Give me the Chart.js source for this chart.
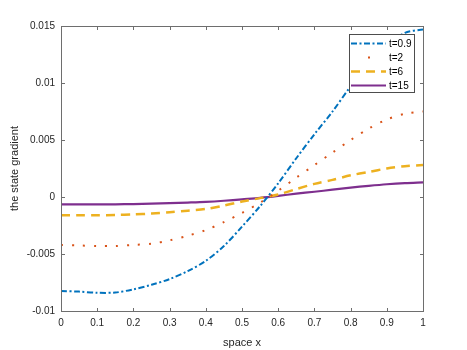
<!DOCTYPE html>
<html>
<head>
<meta charset="utf-8">
<script src="https://cdn.jsdelivr.net/npm/chart.js@4.4.1/dist/chart.umd.min.js"></script>
<style>
  html, body { margin: 0; padding: 0; background: #fff; }
  #box { width: 467px; height: 350px; }
</style>
</head>
<body>
<div id="box"><canvas id="graph"></canvas></div>
<script>
/// data ///
const xs = [0, 0.05, 0.1, 0.15, 0.2, 0.25, 0.3, 0.35, 0.4, 0.45, 0.5, 0.55, 0.6, 0.65, 0.7, 0.75, 0.8, 0.85, 0.9, 0.95, 1];
const t09 = [-0.00825, -0.0083, -0.0084, -0.00838, -0.0081, -0.0077, -0.0072, -0.0065, -0.0056, -0.0043, -0.0026, -0.0008, 0.0012, 0.0034, 0.0055, 0.0075, 0.0097, 0.0117, 0.0133, 0.0144, 0.0147];
const t2 = [-0.0042, -0.00425, -0.0043, -0.0043, -0.0042, -0.0041, -0.0038, -0.0034, -0.0029, -0.0022, -0.0014, -0.0005, 0.00055, 0.0017, 0.0028, 0.0039, 0.005, 0.006, 0.0068, 0.0073, 0.0075];
const t6 = [-0.0016, -0.0016, -0.0016, -0.00158, -0.00153, -0.00145, -0.00133, -0.0012, -0.00105, -0.00075, -0.0004, -0.0001, 0.00022, 0.0007, 0.00115, 0.0015, 0.0019, 0.0022, 0.0025, 0.0027, 0.0028];
const t15 = [-0.00065, -0.00065, -0.00065, -0.00064, -0.00062, -0.00058, -0.00054, -0.00049, -0.00043, -0.00033, -0.0002, -0.00007, 0.0001, 0.00029, 0.00046, 0.00064, 0.00082, 0.00098, 0.00112, 0.00122, 0.00128];
const names = ['t=0.9', 't=2', 't=6', 't=15'];
const xTicks = [0, 0.1, 0.2, 0.3, 0.4, 0.5, 0.6, 0.7, 0.8, 0.9, 1];
const yTicks = [-0.01, -0.005, 0, 0.005, 0.01, 0.015];

function pts(ys) {
  return xs.map((x, i) => ({ x: x, y: ys[i] }));
}

const axisColor = '#6e6e6e';
const textColor = '#262626';

//// box + inward ticks + legend ////
const boxPlugin = {
  id: 'boxPlugin',
  afterDatasetsDraw(chart) {
    const ctx = chart.ctx;
    const a = chart.chartArea;
    const sx = chart.scales.x, sy = chart.scales.y;
    const L = Math.round(a.left) + 0.5, R = Math.round(a.right) + 0.5;
    const T = Math.round(a.top) + 0.5, B = Math.round(a.bottom) + 0.5;
    ctx.save();
    ctx.strokeStyle = axisColor;
    ctx.lineWidth = 1;
    ctx.setLineDash([]);
    ctx.strokeRect(L, T, R - L, B - T);
    ctx.beginPath();
    xTicks.forEach(v => {
      const px = Math.round(sx.getPixelForValue(v)) + 0.5;
      ctx.moveTo(px, B); ctx.lineTo(px, B - 3.5);
      ctx.moveTo(px, T); ctx.lineTo(px, T + 3.5);
    });
    yTicks.forEach(v => {
      const py = Math.round(sy.getPixelForValue(v)) + 0.5;
      ctx.moveTo(L, py); ctx.lineTo(L + 3.5, py);
      ctx.moveTo(R, py); ctx.lineTo(R - 3.5, py);
    });
    ctx.stroke();

    // legend
    const lx = 349.5, ly = 34.5, lw = 65, lh = 58;
    ctx.fillStyle = '#fff';
    ctx.fillRect(lx, ly, lw, lh);
    ctx.strokeStyle = '#4d4d4d';
    ctx.strokeRect(lx, ly, lw, lh);
    ctx.font = '10px "Liberation Sans", Arial, sans-serif';
    ctx.textBaseline = 'middle';
    ctx.textAlign = 'left';
    chart.data.datasets.forEach((ds, i) => {
      const y = 43.5 + i * 14;
      ctx.strokeStyle = ds.borderColor;
      ctx.lineWidth = ds.borderWidth;
      if (i == 1) {
        ctx.fillStyle = ds.borderColor;
        ctx.fillRect(368, y - 1, 2, 2);
      } else {
        ctx.setLineDash(ds.borderDash || []);
        ctx.beginPath();
        ctx.moveTo(351, y); ctx.lineTo(386, y);
        ctx.stroke();
        ctx.setLineDash([]);
      }
      ctx.fillStyle = '#000';
      ctx.fillText(ds.label, 389, y + 0.5);
    });
    ctx.restore();
  }
};

function fmt(v) {
  return String(Number(v.toFixed(4)));
}

const ctx = document.getElementById('graph').getContext('2d');
const myChart = new Chart(ctx, {
  type: 'line',
  data: {
    datasets: [
      { label: names[0], data: pts(t09), borderColor: '#0072BD', borderWidth: 2, borderDash: [6, 2.5, 2, 2.5] },
      { label: names[1], data: pts(t2), borderColor: '#D95319', borderWidth: 2, borderDash: [2, 9] },
      { label: names[2], data: pts(t6), borderColor: '#EDB120', borderWidth: 2.5, borderDash: [9, 6] },
      { label: names[3], data: pts(t15), borderColor: '#7E2F8E', borderWidth: 2.2 }
    ]
  },
  options: {
    responsive: true,
    maintainAspectRatio: false,
    animation: false,
    devicePixelRatio: 1,
    layout: { padding: { top: 26, right: 44, left: 0, bottom: 0 } },
    elements: {
      point: { radius: 0 },
      line: { tension: 0.3, fill: false }
    },
    plugins: { legend: { display: false }, tooltip: { enabled: false } },
    scales: {
      x: {
        type: 'linear', min: 0, max: 1,
        afterBuildTicks: s => { s.ticks = xTicks.map(v => ({ value: v })); },
        afterFit: s => { s.height = 39; },
        grid: { display: false, drawTicks: false },
        border: { display: false },
        ticks: { padding: 6, color: textColor, font: { family: 'Liberation Sans', size: 10 }, maxRotation: 0, callback: v => fmt(v) },
        title: { display: true, text: 'space x', color: textColor, font: { family: 'Liberation Sans', size: 11 }, padding: { top: 2, bottom: 0 } }
      },
      y: {
        type: 'linear', min: -0.01, max: 0.015,
        afterBuildTicks: s => { s.ticks = yTicks.map(v => ({ value: v })); },
        afterFit: s => { s.width = 61; },
        grid: { display: false, drawTicks: false },
        border: { display: false },
        ticks: { padding: 6, color: textColor, font: { family: 'Liberation Sans', size: 10 }, callback: v => fmt(v) },
        title: { display: true, text: 'the state gradient', color: textColor, font: { family: 'Liberation Sans', size: 11 }, padding: { top: 8, bottom: 0 } }
      }
    }
  },
  plugins: [boxPlugin]
});
</script>
</body>
</html>
